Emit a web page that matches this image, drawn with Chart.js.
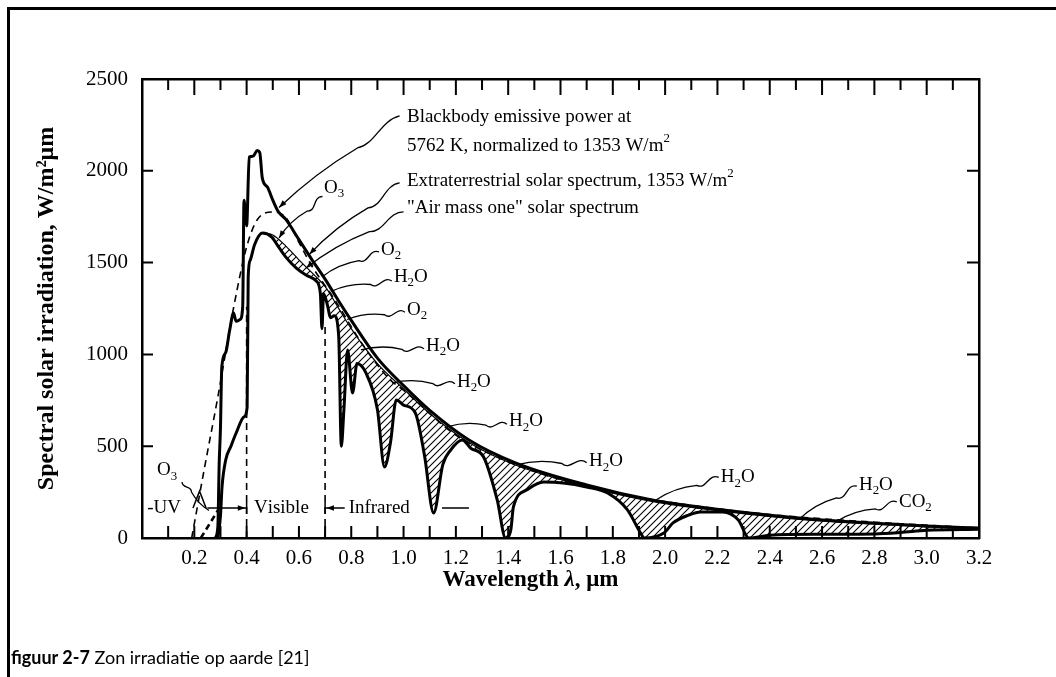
<!DOCTYPE html>
<html>
<head>
<meta charset="utf-8">
<script src="https://cdn.jsdelivr.net/npm/chart.js@4.4.0/dist/chart.umd.min.js"></script>
<style>
  html, body { margin: 0; padding: 0; background: #fff; }
  #page { position: relative; width: 1056px; height: 677px; overflow: hidden; }
  #frame { position: absolute; left: 7px; top: 7px; width: 1200px; height: 800px; border: 3px solid #000; box-sizing: border-box; }
  #solar { position: absolute; left: 0; top: 0; }
  #caption { position: absolute; left: 11px; top: 646px; font-family: Lato, "Liberation Sans", sans-serif; font-size: 18px; color: #000; }
</style>
</head>
<body>
<div id="page">
  <div id="frame"></div>
  <canvas id="solar" width="1056" height="677"></canvas>
  <div id="caption"><b>figuur 2-7</b> Zon irradiatie op aarde [21]</div>
</div>
<script>
// extraterrestrial solar spectrum (W/m2 um)
const etWave = [0.28, 0.29, 0.295, 0.30, 0.305, 0.32, 0.335, 0.35, 0.36, 0.375, 0.385, 0.39, 0.395, 0.40, 0.41, 0.425, 0.44, 0.45, 0.46, 0.48, 0.50, 0.52, 0.55, 0.60, 0.65, 0.70, 0.75, 0.80, 0.90, 1.00, 1.10, 1.25, 1.43, 1.70, 1.95, 2.13, 2.50, 2.66, 3.00, 3.20];
const etValue = [0, 60, 400, 600, 930, 1010, 1130, 1225, 1180, 1190, 1260, 1840, 1760, 1700, 2075, 2080, 2110, 2100, 1960, 1910, 1840, 1780, 1735, 1625, 1515, 1410, 1295, 1185, 980, 830, 695, 534, 408, 289, 207, 169, 110, 92, 66, 54];

// upper edge of the hatched absorption bands
const envWave = [0.46, 0.50, 0.55, 0.60, 0.66, 0.70, 0.75, 0.80, 0.90, 1.00, 1.10, 1.25, 1.43, 1.70, 1.95, 2.13, 2.50, 2.66, 3.00, 3.20];
const envValue = [1664, 1650, 1590, 1515, 1430, 1370, 1255, 1140, 950, 812, 678, 520, 396, 280, 199, 161, 103, 87, 60, 48];

// "air mass one" solar spectrum
const am1Wave = [0.29, 0.30, 0.306, 0.32, 0.34, 0.36, 0.39, 0.402, 0.406, 0.414, 0.43, 0.46, 0.495, 0.52, 0.55, 0.59, 0.63, 0.666, 0.682, 0.688, 0.694, 0.71, 0.72, 0.735, 0.752, 0.762, 0.772, 0.786, 0.805, 0.822, 0.856, 0.90, 0.927, 0.95, 0.972, 1.00, 1.045, 1.08, 1.115, 1.15, 1.18, 1.225, 1.256, 1.306, 1.358, 1.39, 1.41, 1.42, 1.47, 1.535, 1.61, 1.70, 1.78, 1.856, 1.906, 1.92, 1.995, 2.03, 2.09, 2.135, 2.22, 2.28, 2.32, 2.40, 2.60, 2.80, 2.90, 3.00, 3.20];
const am1Value = [0, 120, 278, 425, 500, 572, 660, 713, 1422, 1514, 1596, 1661, 1640, 1590, 1530, 1470, 1430, 1400, 1330, 1140, 1330, 1262, 1200, 1210, 1100, 500, 700, 1024, 790, 950, 899, 700, 387, 520, 752, 724, 681, 450, 136, 400, 479, 534, 490, 441, 207, 0, 44, 169, 261, 305, 300, 278, 245, 153, 27, 0, 27, 82, 125, 142, 142, 98, 0, 15, 20, 22, 30, 42, 48];

// blackbody 5762 K, normalized to 1353 W/m2
const bbWave = [0.19, 0.24, 0.29, 0.35, 0.40, 0.44, 0.50, 0.55, 0.60, 0.65, 0.73, 0.85, 0.95, 1.00, 1.20, 1.40, 1.60, 1.80, 2.00, 2.40, 2.80, 3.20];
const bbValue = [0, 390, 768, 1253, 1585, 1732, 1776, 1745, 1610, 1480, 1313, 1040, 860, 805, 560, 415, 318, 248, 198, 128, 86, 55];

// ozone cut-off in the UV
const o3Wave = [0.225, 0.29];
const o3Value = [0, 150];

// UV / visible / infrared boundaries
const bandWave = [0.4, 0.7];
const bandTop = [1260, 1150];

const xTickLabels = ["0.2", "0.4", "0.6", "0.8", "1.0", "1.2", "1.4", "1.6", "1.8", "2.0", "2.2", "2.4", "2.6", "2.8", "3.0", "3.2"];
const yTickLabels = ["0", "500", "1000", "1500", "2000", "2500"];

// text on the plot, anchored in data units (left, middle)
const notes = [
  { text: "Blackbody emissive power at", x: 1.013, y: 2293 },
  { text: "5762 K, normalized to 1353 W/m^2", x: 1.013, y: 2135 },
  { text: "Extraterrestrial solar spectrum, 1353 W/m^2", x: 1.013, y: 1945 },
  { text: "\"Air mass one\" solar spectrum", x: 1.013, y: 1798 },
  { text: "O_3", x: 0.696, y: 1907 },
  { text: "O_2", x: 0.914, y: 1569 },
  { text: "H_2O", x: 0.963, y: 1422 },
  { text: "O_2", x: 1.013, y: 1242 },
  { text: "H_2O", x: 1.086, y: 1046 },
  { text: "H_2O", x: 1.204, y: 850 },
  { text: "H_2O", x: 1.403, y: 637 },
  { text: "H_2O", x: 1.709, y: 419 },
  { text: "H_2O", x: 2.213, y: 332 },
  { text: "H_2O", x: 2.741, y: 289 },
  { text: "CO_2", x: 2.894, y: 196 },
  { text: "O_3", x: 0.057, y: 370 },
  { text: "-UV", x: 0.02, y: 163 },
  { text: "Visible", x: 0.428, y: 163 },
  { text: "Infrared", x: 0.79, y: 163 }
];

// wavy pointer lines: from label to curve
const leaders = [
  { from: [0.985, 2299], to: [0.524, 1800], arrow: true },
  { from: [0.985, 1934], to: [0.64, 1545], arrow: true },
  { from: [1.0, 1776], to: [0.627, 1470], arrow: true },
  { from: [0.69, 1860], to: [0.524, 1634], arrow: true },
  { from: [0.906, 1558], to: [0.688, 1422], arrow: false },
  { from: [0.955, 1400], to: [0.726, 1345], arrow: false },
  { from: [1.005, 1230], to: [0.784, 1190], arrow: false },
  { from: [1.078, 1030], to: [0.837, 1024], arrow: false },
  { from: [1.196, 840], to: [0.956, 844], arrow: false },
  { from: [1.395, 620], to: [1.166, 605], arrow: false },
  { from: [1.700, 410], to: [1.43, 398], arrow: false },
  { from: [2.205, 330], to: [1.965, 207], arrow: false },
  { from: [2.733, 282], to: [2.511, 100], arrow: false },
  { from: [2.886, 196], to: [2.653, 88], arrow: false },
  { from: [0.153, 305], to: [0.256, 150], arrow: false }
];

const serif = "'Liberation Serif', 'DejaVu Serif', serif";
const pts = (xs, ys) => xs.map((x, i) => ({ x: x, y: ys[i] }));

const canvas = document.getElementById("solar");
const ctx0 = canvas.getContext("2d");

// //// hatching for absorbed energy
const tile = document.createElement("canvas");
tile.width = 7;
tile.height = 7;
const tg = tile.getContext("2d");
tg.strokeStyle = "#000";
tg.lineWidth = 1.1;
tg.beginPath();
tg.moveTo(-1, 8); tg.lineTo(8, -1);
tg.moveTo(-1, 1); tg.lineTo(1, -1);
tg.moveTo(6, 8); tg.lineTo(8, 6);
tg.stroke();
const hatch = ctx0.createPattern(tile, "repeat");

function richText(ctx, str, x, y, size) {
  let cx = x;
  for (let i = 0; i < str.length; i++) {
    let ch = str[i];
    let dy = 0, s = size;
    if ((ch === "_" || ch === "^") && i + 1 < str.length) {
      dy = ch === "_" ? size * 0.32 : -size * 0.38;
      s = size * 0.68;
      ch = str[++i];
    }
    ctx.font = s + "px " + serif;
    ctx.fillText(ch, cx, y + dy);
    cx += ctx.measureText(ch).width;
  }
}

function arrowHead(ctx, fx, fy, tx, ty, size) {
  const a = Math.atan2(ty - fy, tx - fx);
  ctx.beginPath();
  ctx.moveTo(tx, ty);
  ctx.lineTo(tx - size * Math.cos(a - 0.35), ty - size * Math.sin(a - 0.35));
  ctx.lineTo(tx - size * Math.cos(a + 0.35), ty - size * Math.sin(a + 0.35));
  ctx.closePath();
  ctx.fill();
}

const frameTicks = {
  id: "frameTicks",
  afterDraw(chart) {
    const { ctx, chartArea: a, scales: { x, y } } = chart;
    ctx.save();
    ctx.strokeStyle = "#000";
    ctx.lineWidth = 2;
    ctx.beginPath();
    x.ticks.forEach(t => {
      const n = Math.round(t.value * 10);
      if (n <= 0 || n >= 32) return;
      const px = x.getPixelForValue(t.value);
      ctx.moveTo(px, a.bottom); ctx.lineTo(px, a.bottom - 12);
      ctx.moveTo(px, a.top); ctx.lineTo(px, a.top + (n % 2 === 0 ? 16 : 11));
    });
    y.ticks.forEach(t => {
      if (t.value <= 0 || t.value >= 2500) return;
      const py = y.getPixelForValue(t.value);
      ctx.moveTo(a.left, py); ctx.lineTo(a.left + 11, py);
      ctx.moveTo(a.right, py); ctx.lineTo(a.right - 12, py);
    });
    ctx.stroke();

    // x-axis title, with an italic lambda
    const parts = [["Wavelength ", "bold"], ["λ", "bold italic"], [", μm", "bold"]];
    let w = 0;
    parts.forEach(p => { ctx.font = p[1] + " 23px " + serif; w += ctx.measureText(p[0]).width; });
    let cx = x.getPixelForValue(1.485) - w / 2;
    ctx.fillStyle = "#000";
    ctx.textBaseline = "middle";
    ctx.textAlign = "left";
    parts.forEach(p => {
      ctx.font = p[1] + " 23px " + serif;
      ctx.fillText(p[0], cx, a.bottom + 42);
      cx += ctx.measureText(p[0]).width;
    });
    ctx.restore();
  }
};

const notesPlugin = {
  id: "notes",
  afterDatasetsDraw(chart) {
    const { ctx, scales: { x, y } } = chart;
    ctx.save();
    ctx.fillStyle = "#000";
    ctx.strokeStyle = "#000";
    ctx.textBaseline = "middle";
    ctx.textAlign = "left";
    notes.forEach(n => richText(ctx, n.text, x.getPixelForValue(n.x), y.getPixelForValue(n.y), 19));

    ctx.lineWidth = 1.3;
    leaders.forEach(l => {
      const sx = x.getPixelForValue(l.from[0]), sy = y.getPixelForValue(l.from[1]);
      const tx = x.getPixelForValue(l.to[0]), ty = y.getPixelForValue(l.to[1]);
      const dx = tx - sx, dy = ty - sy;
      const len = Math.hypot(dx, dy) || 1;
      const nx = -dy / len, ny = dx / len;
      const w = Math.min(8, len * 0.12);
      const mx = sx + dx * 0.35, my = sy + dy * 0.35;
      ctx.beginPath();
      ctx.moveTo(sx, sy);
      ctx.bezierCurveTo(sx + dx * 0.12 + nx * w, sy + dy * 0.12 + ny * w,
                        sx + dx * 0.24 - nx * w, sy + dy * 0.24 - ny * w, mx, my);
      const cx = (mx + tx) / 2 + nx * w * 0.7, cy = (my + ty) / 2 + ny * w * 0.7;
      ctx.quadraticCurveTo(cx, cy, tx, ty);
      ctx.stroke();
      if (l.arrow) arrowHead(ctx, cx, cy, tx, ty, 8);
    });

    // UV -> | Visible | <- Infrared --
    const yb = y.getPixelForValue(163);
    const p = v => x.getPixelForValue(v);
    ctx.lineWidth = 1.5;
    ctx.beginPath();
    ctx.moveTo(p(0.25), yb); ctx.lineTo(p(0.4), yb);
    ctx.moveTo(p(0.4), yb - 6); ctx.lineTo(p(0.4), yb + 6);
    ctx.moveTo(p(0.7), yb - 6); ctx.lineTo(p(0.7), yb + 6);
    ctx.moveTo(p(0.7), yb); ctx.lineTo(p(0.775), yb);
    ctx.moveTo(p(1.147), yb); ctx.lineTo(p(1.25), yb);
    ctx.moveTo(p(0.195), yb); ctx.lineTo(p(0.22), y.getPixelForValue(255)); ctx.lineTo(p(0.245), yb);
    ctx.stroke();
    arrowHead(ctx, p(0.3), yb, p(0.395), yb, 8);
    arrowHead(ctx, p(0.76), yb, p(0.705), yb, 8);
    ctx.restore();
  }
};

const line = (data, width, extra) => Object.assign({
  data: data, borderColor: "#000", borderWidth: width, pointRadius: 0,
  fill: false, cubicInterpolationMode: "monotone"
}, extra || {});

new Chart(canvas, {
  type: "line",
  data: {
    datasets: [
      line(pts(etWave, etValue), 3),
      line(pts(envWave, envValue), 1.2, { fill: { target: 2 }, backgroundColor: hatch }),
      line(pts(am1Wave, am1Value), 3),
      line(pts(bbWave, bbValue), 1.6, { borderDash: [7, 5] }),
      line([{ x: bandWave[0], y: 0 }, { x: bandWave[0], y: bandTop[0] }], 1.6, { borderDash: [7, 5], cubicInterpolationMode: "default" }),
      line([{ x: bandWave[1], y: 0 }, { x: bandWave[1], y: bandTop[1] }], 1.6, { borderDash: [7, 5], cubicInterpolationMode: "default" }),
      line(pts(o3Wave, o3Value), 2.6, { borderDash: [6, 4], cubicInterpolationMode: "default" })
    ]
  },
  options: {
    responsive: false,
    animation: false,
    devicePixelRatio: 1,
    layout: { padding: { left: 0, top: 79, right: 77, bottom: 69 } },
    plugins: { legend: { display: false }, tooltip: { enabled: false } },
    scales: {
      x: {
        type: "linear", position: "bottom", min: 0, max: 3.2,
        ticks: {
          stepSize: 0.1, autoSkip: false, maxRotation: 0, padding: 8, color: "#000",
          font: { family: serif, size: 21 },
          callback: v => {
            const n = Math.round(v * 10);
            return n > 0 && n % 2 === 0 ? xTickLabels[n / 2 - 1] : "";
          }
        },
        grid: { display: false, drawTicks: false },
        border: { display: true, color: "#000", width: 2.5 },
        title: { display: false },
        afterFit: s => { s.height = 70; }
      },
      xTop: {
        type: "linear", position: "top", min: 0, max: 3.2,
        ticks: { display: false }, grid: { display: false, drawTicks: false },
        border: { display: true, color: "#000", width: 2.5 },
        afterFit: s => { s.height = 0; }
      },
      y: {
        type: "linear", position: "left", min: 0, max: 2500,
        ticks: {
          stepSize: 500, padding: 14, color: "#000", font: { family: serif, size: 21 },
          callback: v => yTickLabels[Math.round(v / 500)]
        },
        grid: { display: false, drawTicks: false },
        border: { display: true, color: "#000", width: 2.5 },
        title: { display: true, text: "Spectral solar irradiation, W/m²μm", color: "#000", font: { family: serif, size: 24, weight: "bold" }, padding: { top: 32, bottom: 0 } },
        afterFit: s => { s.width = 142; }
      },
      yRight: {
        type: "linear", position: "right", min: 0, max: 2500,
        ticks: { display: false }, grid: { display: false, drawTicks: false },
        border: { display: true, color: "#000", width: 2.5 },
        afterFit: s => { s.width = 0; }
      }
    }
  },
  plugins: [frameTicks, notesPlugin]
});
</script>
</body>
</html>
